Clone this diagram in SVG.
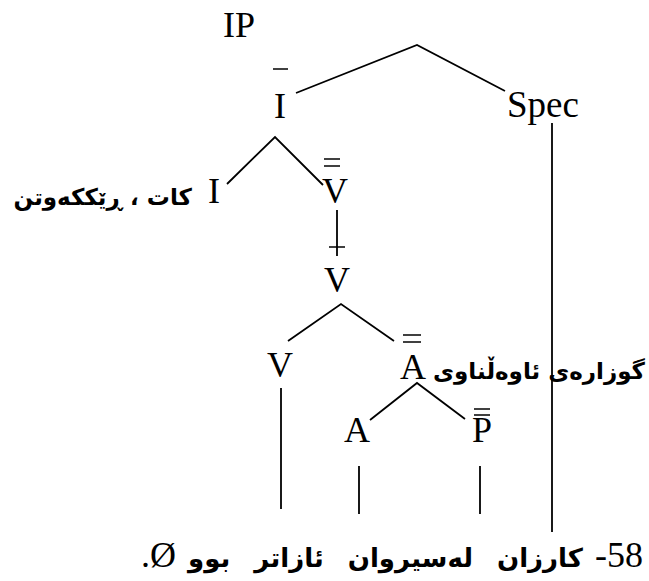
<svg xmlns="http://www.w3.org/2000/svg" width="649" height="581" viewBox="0 0 649 581">
<style>
.t{font-family:"Liberation Serif","Times New Roman",serif;font-size:36px;font-weight:normal;fill:#000}
.ar{font-family:"DejaVu Sans",sans-serif;font-weight:bold;font-size:23px;fill:#000}
.big{font-size:26px}
.ln{stroke:#000;stroke-width:1.8;fill:none;stroke-linecap:butt}
.bar{stroke:#000;stroke-width:1.5;fill:none}
</style>
<rect width="649" height="581" fill="#fff"/>
<g id="connectors">
<path class="ln" d="M296,93 L417,45 L505,91"/>
<path class="ln" d="M227,184 L275,137 L323,185"/>
<line class="ln" x1="337" y1="210" x2="337" y2="256"/>
<path class="ln" d="M288,341 L341,304 L394,341"/>
<path class="ln" d="M370,420 L417,383 L465,419"/>
<line class="ln" x1="552" y1="123" x2="552" y2="532"/>
<line class="ln" x1="281" y1="388" x2="281" y2="509"/>
<line class="ln" x1="359" y1="466" x2="359" y2="514"/>
<line class="ln" x1="480" y1="466" x2="480" y2="514"/>
</g>
<g id="node-IP"><text class="t" x="223" y="37">IP</text></g>
<g id="node-Ibar"><text class="t" x="280" y="118" text-anchor="middle">I</text><line class="bar" x1="273" y1="69" x2="288" y2="69"/></g>
<g id="node-Spec"><text class="t" x="507" y="117" style="font-size:37px">Spec</text></g>
<g id="node-I"><text class="t" x="214" y="203" text-anchor="middle">I</text><text class="ar" x="192" y="205" direction="rtl" text-anchor="start">كات ، ڕێككەوتن</text></g>
<g id="node-Vbarbar"><text class="t" x="335" y="203" text-anchor="middle">V</text><line class="bar" x1="324" y1="159" x2="340" y2="159"/><line class="bar" x1="324" y1="166" x2="340" y2="166"/></g>
<g id="node-Vbar"><text class="t" x="337" y="292" text-anchor="middle">V</text><line class="bar" x1="329" y1="247" x2="345" y2="247"/></g>
<g id="node-V"><text class="t" x="280" y="377" text-anchor="middle">V</text></g>
<g id="node-Abarbar"><text class="t" x="413" y="379" text-anchor="middle">A</text><line class="bar" x1="403" y1="335" x2="421" y2="335"/><line class="bar" x1="403" y1="342" x2="421" y2="342"/><text class="ar" x="645" y="379" direction="rtl" text-anchor="start">گوزارەی ئاوەڵناوی</text></g>
<g id="node-A"><text class="t" x="357" y="442" text-anchor="middle">A</text></g>
<g id="node-Pbarbar"><text class="t" x="482" y="442" text-anchor="middle">P</text><line class="bar" x1="474" y1="409" x2="490" y2="409"/><line class="bar" x1="474" y1="415" x2="490" y2="415"/></g>
<g id="sentence"><text class="ar big" x="643" y="567" direction="rtl" text-anchor="start" word-spacing="3" xml:space="preserve"><tspan class="t">58-</tspan> كارزان  لەسیروان  ئازاتر  بوو <tspan class="t">Ø.</tspan></text></g>
</svg>
